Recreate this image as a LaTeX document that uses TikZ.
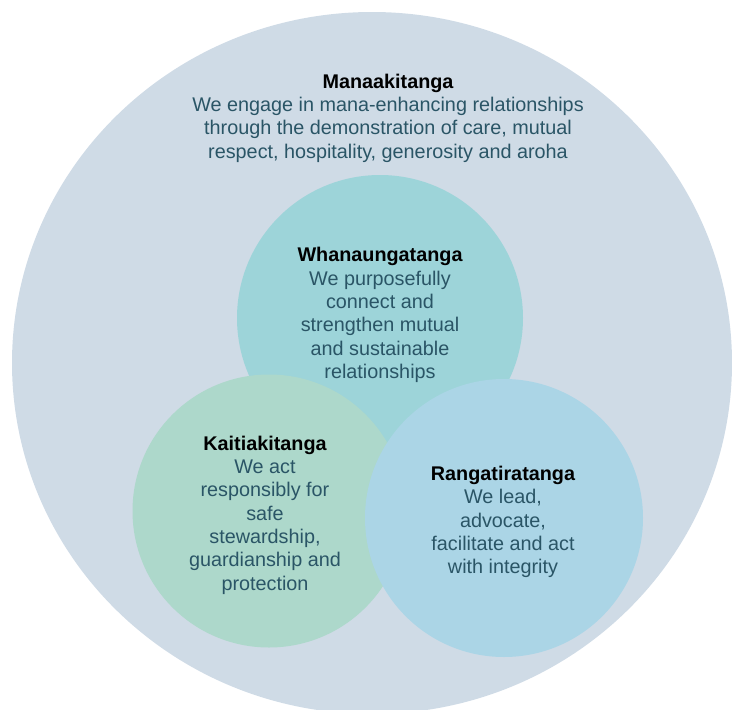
\documentclass[tikz,border=0pt]{standalone}
\usepackage{fontspec}
\setmainfont{Liberation Sans}
\usetikzlibrary{shapes.geometric}
\definecolor{outerfill}{HTML}{CFDBE6}
\definecolor{whanaufill}{HTML}{9DD4D9}
\definecolor{kaitifill}{HTML}{ADD8CB}
\definecolor{rangafill}{HTML}{ABD5E6}
\definecolor{bodytext}{HTML}{2A5566}
\begin{document}
\begin{tikzpicture}[x=1pt,y=-1pt,
  ring/.style={circle,draw=none,inner sep=0pt},
  label/.style={align=center,inner sep=0pt,font=\fontsize{19.8}{23.3}\selectfont,text=bodytext}]
\useasboundingbox (0,0) rectangle (732,710);
% outer value
\node[ellipse,fill=outerfill,draw=none,minimum width=720pt,minimum height=702pt,inner sep=0pt] (mana) at (372,363) {};
% three inner values
\node[ring,fill=whanaufill,minimum size=286pt] (whanau) at (380,318) {};
\node[ring,fill=kaitifill,minimum size=273pt] (kaiti) at (269,511) {};
\node[ring,fill=rangafill,minimum size=278pt] (ranga) at (504,518) {};
% texts
\node[label] (manatext) at (388,118) {{\bfseries\color{black}Manaakitanga}\\We engage in mana-enhancing relationships\\through the demonstration of care, mutual\\respect, hospitality, generosity and aroha};
\node[label] (whanautext) at (380,315) {{\bfseries\color{black}Whanaungatanga}\\We purposefully\\connect and\\strengthen mutual\\and sustainable\\relationships};
\node[label] (kaititext) at (265,515) {{\bfseries\color{black}Kaitiakitanga}\\We act\\responsibly for\\safe\\stewardship,\\guardianship and\\protection};
\node[label] (rangatext) at (503,522) {{\bfseries\color{black}Rangatiratanga}\\We lead,\\advocate,\\facilitate and act\\with integrity};
\end{tikzpicture}
\end{document}
